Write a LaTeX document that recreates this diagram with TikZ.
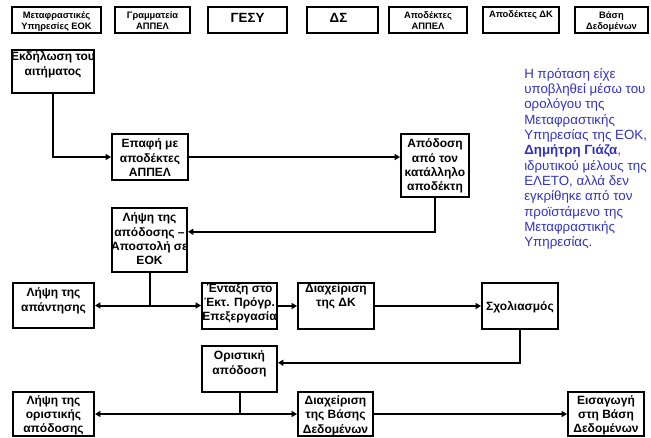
\documentclass[tikz,border=0pt]{standalone}
\usepackage{fontspec}
\setmainfont{Liberation Sans}
\usetikzlibrary{arrows.meta,calc,fit}
\definecolor{noteblue}{RGB}{51,51,187}
% invisible struts fixing the height of a first text line
\newcommand{\sA}{\rule{0pt}{7pt}}
\newcommand{\sB}{\rule{0pt}{5.5pt}}
\newcommand{\sC}{\rule{0pt}{7.5pt}}
\begin{document}
\begin{tikzpicture}[x=0.75pt,y=-0.75pt,
  frame/.style={draw,line width=1.5pt,inner sep=0pt},
  boxtxt/.style={font=\bfseries\fontsize{9}{10.8}\selectfont,align=center,inner sep=0pt,anchor=north},
  hdrtxt/.style={font=\bfseries\fontsize{7}{8}\selectfont,align=center,inner sep=0pt,anchor=north},
  bigtxt/.style={font=\bfseries\fontsize{10}{12}\selectfont,inner sep=0pt,anchor=base},
  note/.style={font=\fontsize{10}{11.5}\selectfont,text=noteblue,align=left,inner sep=0pt,anchor=north west},
  link/.style={line width=1.5pt},
  arr/.style={line width=1.5pt,-{Triangle[length=4pt,width=4.5pt]}},
  darr/.style={line width=1.5pt,{Triangle[length=4pt,width=4.5pt]}-{Triangle[length=4pt,width=4.5pt]}}]
\useasboundingbox (0,0) rectangle (651,437);

% column headers
\node[frame,fit={(12,7) (101,33)}] (h1) {};
\node[frame,fit={(115,7) (190,33)}] (h2) {};
\node[frame,fit={(208,7) (287,33)}] (h3) {};
\node[frame,fit={(307,7) (378,33)}] (h4) {};
\node[frame,fit={(389,7) (467,33)}] (h5) {};
\node[frame,fit={(483,7) (559,33)}] (h6) {};
\node[frame,fit={(575,7) (648,33)}] (h7) {};
\node[hdrtxt] (h1t) at ($(h1.north)+(0,5)$) {\sB Μεταφραστικές\\Υπηρεσίες ΕΟΚ};
\node[hdrtxt] (h2t) at ($(h2.north)+(0,5)$) {\sB Γραμματεία\\ΑΠΠΕΛ};
\node[bigtxt] (h3t) at ($(h3.north)+(0,16.3)$) {ΓΕΣΥ};
\node[bigtxt] (h4t) at ($(h4.north)+(-4,16.3)$) {ΔΣ};
\node[hdrtxt] (h5t) at ($(h5.north)+(0,5)$) {\sB Αποδέκτες\\ΑΠΠΕΛ};
\node[hdrtxt] (h6t) at ($(h6.north)+(0,4)$) {\sB Αποδέκτες ΔΚ};
\node[hdrtxt] (h7t) at ($(h7.north)+(0,5)$) {\sB Βάση\\Δεδομένων};

% process steps
\node[frame,fit={(12,50) (94,93)}] (ekd) {};
\node[frame,fit={(112,134) (188,180)}] (epafi) {};
\node[frame,fit={(401,134) (469,197)}] (apod) {};
\node[frame,fit={(112,208) (187,272)}] (lipsi) {};
\node[frame,fit={(13,283) (94,328)}] (apant) {};
\node[frame,fit={(202,283) (277,329)}] (entaxi) {};
\node[frame,fit={(298,283) (374,329)}] (diaxdk) {};
\node[frame,fit={(482,283) (558,329)}] (sxol) {};
\node[frame,fit={(202,346) (277,392)}] (orist) {};
\node[frame,fit={(13,392) (94,436)}] (lipsior) {};
\node[frame,fit={(298,392) (373,436)}] (diaxbasis) {};
\node[frame,fit={(568,392) (644,436)}] (eisag) {};

\node[boxtxt] (ekdt) at ($(ekd.north)+(0,2)$) {\sA Εκδήλωση του\\αιτήματος};
\node[boxtxt] (epafit) at ($(epafi.north)+(0,5)$) {\sA Επαφή με\\αποδέκτες\\ΑΠΠΕΛ};
\node[boxtxt] (apodt) at ($(apod.north)+(0,5)$) {\sA Απόδοση\\από τον\\κατάλληλο\\αποδέκτη};
\node[boxtxt] (lipsit) at ($(lipsi.north)+(0,5)$) {\sA Λήψη της\\απόδοσης --\\Αποστολή σε\\ΕΟΚ};
\node[boxtxt] (apantt) at ($(apant.north)+(0,5)$) {\sA Λήψη της\\απάντησης};
\node[boxtxt] (entaxit) at ($(entaxi.north)+(0,0.5)$) {\sA Ένταξη στο\\Έκτ. Πρόγρ.\\Επεξεργασία};
\node[boxtxt] (diaxdkt) at ($(diaxdk.north)+(0,0.5)$) {\sA Διαχείριση\\της ΔΚ};
\node[boxtxt,anchor=base] (sxolt) at ($(sxol.center)+(0,4)$) {Σχολιασμός};
\node[boxtxt] (oristt) at ($(orist.north)+(0,5)$) {\sA Οριστική\\απόδοση};
\node[boxtxt] (lipsiort) at ($(lipsior.north)+(0,3.5)$) {\sA Λήψη της\\οριστικής\\απόδοσης};
\node[boxtxt] (diaxbasist) at ($(diaxbasis.north)+(0,3.8)$) {\sA Διαχείριση\\της Βάσης\\Δεδομένων};
\node[boxtxt] (eisagt) at ($(eisag.north)+(0,3.5)$) {\sA Εισαγωγή\\στη Βάση\\Δεδομένων};

% side note
\node[note] (remark) at (524,68) {\sC Η πρόταση είχε\\υποβληθεί μέσω του\\ορολόγου της\\Μεταφραστικής\\Υπηρεσίας της ΕΟΚ,\\\textbf{Δημήτρη Γιάζα},\\ιδρυτικού μέλους της\\ΕΛΕΤΟ, αλλά δεν\\εγκρίθηκε από τον\\προϊστάμενο της\\Μεταφραστικής\\Υπηρεσίας.};

% connectors
\draw[arr] (ekd.south) |- (epafi.west);
\draw[arr] (epafi.east) -- (epafi.east -| apod.west);
\draw[arr] (apod.south) |- ($(lipsi.north east)!0.375!(lipsi.south east)$);
\draw[link] (lipsi.south) -- (lipsi.south |- apant.east) coordinate (j1);
\draw[darr] (apant.east) -- (apant.east -| entaxi.west);
\draw[arr] (entaxi.east) -- (diaxdk.west);
\draw[arr] (diaxdk.east) -- (sxol.west);
\draw[arr] (sxol.south) |- ($(orist.north east)!0.37!(orist.south east)$);
\draw[link] (orist.south) -- (orist.south |- lipsior.east) coordinate (j2);
\draw[darr] (lipsior.east) -- (diaxbasis.west);
\draw[arr] (diaxbasis.east) -- (eisag.west);
\end{tikzpicture}
\end{document}
